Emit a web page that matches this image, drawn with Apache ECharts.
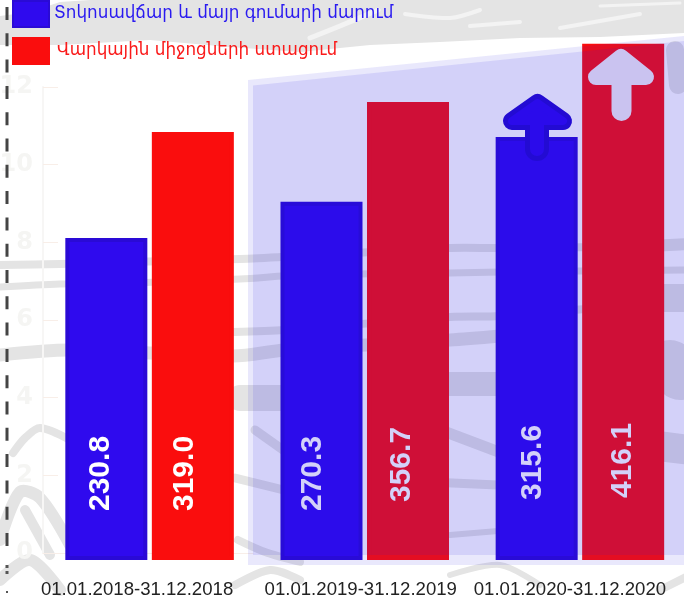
<!DOCTYPE html>
<html>
<head>
<meta charset="utf-8">
<style>
  html, body { margin: 0; padding: 0; background: #fff; }
  #chart { width: 684px; height: 598px; }
</style>
<script src="https://cdn.jsdelivr.net/npm/echarts@6/dist/echarts.min.js"></script>
</head>
<body>
<div id="chart"></div>
<script>
// data
const periods = ['01.01.2018-31.12.2018', '01.01.2019-31.12.2019', '01.01.2020-31.12.2020'];
const depositsName = 'Տոկոսավճար և մայր գումարի մարում';
const loansName = 'Վարկային միջոցների ստացում';
// labels printed on the bars
const depositsLabels = ['230.8', '270.3', '315.6'];
const loansLabels = ['319.0', '356.7', '416.1'];
// bar heights as drawn (they do not follow the printed labels)
const depositsHeights = [8.3, 9.23, 10.9];
const loansHeights = [11.03, 11.8, 13.3];
// faint axis in the back
const backTicks = [0, 2, 4, 6, 8, 10, 12];

const chart = echarts.init(document.getElementById('chart'));

// label shifts by category, in the rotated frame: [up, right]
const depositsShift = [[0, -6], [0, -9], [11, -4]];
const loansShift = [[0, -8], [9, -6], [13, 0]];
const periodPad = [25, 8, 20];

function barSeries(name, heights, labels, shift, color, border) {
  return {
    name: name,
    type: 'bar',
    xAxisIndex: 0,
    yAxisIndex: 0,
    barWidth: 82,
    barGap: '5.5%',
    z: 5,
    itemStyle: { color: color, borderColor: border, borderWidth: 4 },
    data: heights.map((h, i) => ({
      value: h,
      label: {
        show: true,
        position: 'insideBottom',
        distance: 49,
        rotate: 90,
        align: 'left',
        verticalAlign: 'middle',
        offset: shift[i],
        formatter: labels[i],
        color: '#fff',
        fontFamily: 'Liberation Sans',
        fontWeight: 'bold',
        fontSize: 30
      }
    }))
  };
}

// grey map texture in the back
const grey = '#e4e4e4';
const elements = [];

function smear(points, width, color) {
  elements.push({
    type: 'polyline', z: -10, silent: true,
    shape: { points: points, smooth: 0.3 },
    style: { fill: null, stroke: color || grey, lineWidth: width, lineCap: 'round', lineJoin: 'round' }
  });
}

// top band
elements.push({
  type: 'polygon', z: -10, silent: true,
  shape: { points: [[0, 16], [30, 12], [60, 2], [90, 0], [684, 0], [684, 33], [600, 37], [520, 38], [440, 42], [370, 45], [300, 52], [230, 47], [150, 40], [60, 45], [0, 45]] },
  style: { fill: grey }
});
smear([[310, 38], [340, 26], [378, 10]], 5, '#f3f3f3');
smear([[405, 14], [450, 18], [480, 10]], 4, '#f3f3f3');
smear([[470, 26], [520, 22]], 4, '#f3f3f3');
smear([[560, 28], [640, 14]], 4, '#f3f3f3');
smear([[600, 6], [680, 3]], 3, '#f3f3f3');

// streaks across the gaps between bars
smear([[0, 265], [60, 264], [130, 262], [240, 259], [300, 256], [450, 248], [500, 248], [684, 246]], 8);
smear([[0, 287], [60, 284], [130, 283], [240, 279], [300, 275], [450, 273], [500, 272], [684, 270]], 7);
smear([[233, 332], [285, 330], [450, 317], [500, 316], [684, 300]], 8);
smear([[0, 355], [70, 350], [233, 356], [285, 350], [450, 340], [500, 336]], 13);
smear([[240, 398], [300, 398]], 26);
smear([[430, 384], [520, 384]], 24);
smear([[13, 453], [25, 438], [40, 428], [70, 440]], 8);
smear([[255, 430], [300, 462]], 9);
smear([[235, 478], [300, 494]], 9);
smear([[430, 426], [520, 460]], 11);
smear([[430, 482], [520, 486]], 9);
smear([[450, 535], [510, 530]], 6);
smear([[0, 540], [20, 492], [40, 498], [70, 545]], 12);
smear([[25, 510], [50, 555]], 10);
smear([[0, 580], [30, 560], [60, 590]], 12);
smear([[238, 540], [265, 552], [300, 562]], 8);
smear([[235, 585], [270, 570], [300, 580]], 8);
smear([[450, 575], [500, 565], [540, 585]], 6);
smear([[675, 50], [678, 85]], 18);
smear([[650, 246], [690, 244]], 12);
smear([[650, 298], [690, 298]], 28);
smear([[670, 365], [680, 375]], 50);
smear([[650, 445], [690, 450]], 30);
smear([[660, 590], [690, 575]], 8);

// dashed line at the left edge
elements.push({
  type: 'line', z: 20, silent: true,
  shape: { x1: 7, y1: 7, x2: 7, y2: 552 },
  style: { stroke: '#444', lineWidth: 3, lineDash: [13, 13.3] }
});
elements.push({
  type: 'line', z: 20, silent: true,
  shape: { x1: 7, y1: 565, x2: 7, y2: 575 },
  style: { stroke: '#555', lineWidth: 3, lineDash: [3, 3] }
});
elements.push({
  type: 'line', z: 20, silent: true,
  shape: { x1: 7, y1: 591, x2: 7, y2: 593 },
  style: { stroke: '#555', lineWidth: 2 }
});

// arrows, under the shaded panel
function arrow(head, shaft, headWidth, shaftWidth, color) {
  elements.push({
    type: 'line', z: 50, silent: true,
    shape: { x1: shaft[0], y1: shaft[1], x2: shaft[0], y2: shaft[2] },
    style: { stroke: color, lineWidth: shaftWidth, lineCap: 'round' }
  });
  elements.push({
    type: 'polygon', z: 50, silent: true,
    shape: { points: head },
    style: { fill: color, stroke: color, lineWidth: headWidth, lineJoin: 'round' }
  });
}
const blueHead = [[537.5, 103], [563, 121], [512, 121]];
arrow(blueHead, [537, 125, 149], 18, 24, '#2308d0');
arrow(blueHead, [537, 125, 149], 8, 14, '#2d08ee');
arrow([[621, 57], [646, 77], [596, 77]], [621.5, 80, 111], 16, 20, '#f4eef4');

// shaded panel over the last two periods
elements.push({
  type: 'polygon', z: 100, silent: true,
  shape: { points: [[248, 80], [684, 36], [684, 565], [248, 565]] },
  style: { fill: 'rgba(40,30,225,0.1)' }
});
elements.push({
  type: 'polygon', z: 100, silent: true,
  shape: { points: [[253, 85.5], [684, 41], [684, 555], [253, 555]] },
  style: { fill: 'rgba(40,30,225,0.11)' }
});

chart.setOption({
  animation: false,
  backgroundColor: '#fff',
  legend: {
    orient: 'vertical',
    left: 12,
    top: 0,
    padding: 0,
    itemWidth: 36,
    itemHeight: 26,
    itemGap: 9,
    selectedMode: false,
    icon: 'rect',
    data: [
      { name: depositsName, textStyle: { color: '#2a1af0' } },
      { name: loansName, textStyle: { color: '#fa1a1a', padding: [0, 0, 0, 3] } }
    ],
    textStyle: { fontFamily: 'DejaVu Sans', fontSize: 16.8 }
  },
  grid: [
    { left: 42, width: 645.5, top: 0, bottom: 38, outerBoundsMode: 'none' },
    { left: 43, width: 210, top: 87, height: 466, outerBoundsMode: 'none' }
  ],
  xAxis: [
    {
      type: 'category',
      gridIndex: 0,
      data: periods,
      axisLine: { show: false },
      axisTick: { show: false },
      axisLabel: {
        margin: 20,
        interval: 0,
        hideOverlap: false,
        fontFamily: 'Liberation Sans',
        fontSize: 18.6,
        color: '#222',
        formatter: (v, i) => '{p' + i + '|' + v + '}',
        rich: {
          p0: { padding: [0, periodPad[0], 0, 0] },
          p1: { padding: [0, periodPad[1], 0, 0] },
          p2: { padding: [0, periodPad[2], 0, 0] }
        }
      }
    },
    {
      type: 'value',
      gridIndex: 1,
      min: 0,
      max: 1,
      axisLine: { show: true, lineStyle: { color: '#f8eee8' } },
      axisTick: { show: false },
      axisLabel: { show: false },
      splitLine: { show: false }
    }
  ],
  yAxis: [
    {
      type: 'value',
      gridIndex: 0,
      min: 0,
      max: 14.43,
      show: false
    },
    {
      type: 'value',
      gridIndex: 1,
      min: backTicks[0],
      max: backTicks[backTicks.length - 1],
      interval: 2,
      axisLine: { show: true, lineStyle: { color: '#f7f6f5', width: 2 } },
      axisTick: { show: true, inside: true, length: 15, lineStyle: { color: '#f8eee8' } },
      axisLabel: {
        margin: 10,
        color: '#f5f5f3',
        fontFamily: 'DejaVu Sans',
        fontWeight: 'bold',
        fontSize: 24
      },
      splitLine: { show: false }
    }
  ],
  series: [
    barSeries(depositsName, depositsHeights, depositsLabels, depositsShift, '#2f0aee', '#2a0ad6'),
    barSeries(loansName, loansHeights, loansLabels, loansShift, '#fa0d0d', '#fa0d0d')
  ],
  graphic: { elements: elements }
});
</script>
</body>
</html>
